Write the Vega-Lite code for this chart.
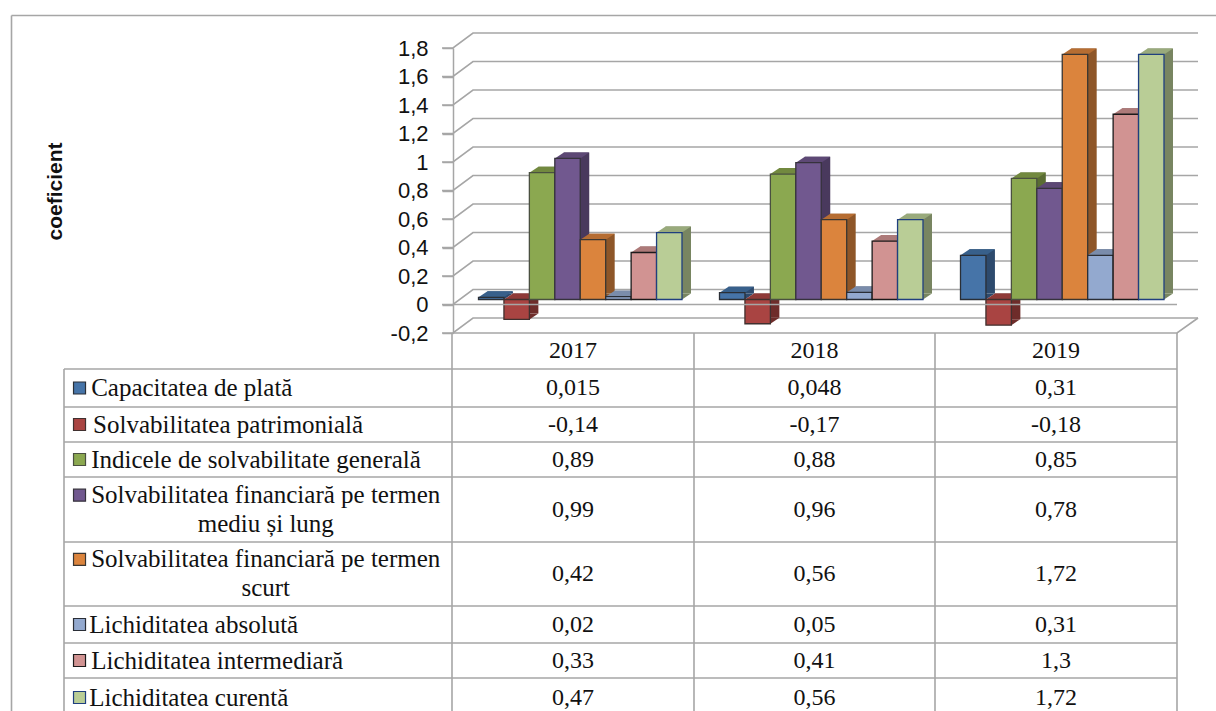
{"$schema":"https://vega.github.io/schema/vega-lite/v6.json","width":1216,"height":711,"padding":0,"autosize":{"type":"none"},"background":"white","config":{"view":{"stroke":null}},
"datasets":{
"bars":[
{"series":"Capacitatea de plată","year":"2017","value":0.015},{"series":"Capacitatea de plată","year":"2018","value":0.048},{"series":"Capacitatea de plată","year":"2019","value":0.31},
{"series":"Solvabilitatea patrimonială","year":"2017","value":-0.14},{"series":"Solvabilitatea patrimonială","year":"2018","value":-0.17},{"series":"Solvabilitatea patrimonială","year":"2019","value":-0.18},
{"series":"Indicele de solvabilitate generală","year":"2017","value":0.89},{"series":"Indicele de solvabilitate generală","year":"2018","value":0.88},{"series":"Indicele de solvabilitate generală","year":"2019","value":0.85},
{"series":"Solvabilitatea financiară pe termen mediu și lung","year":"2017","value":0.99},{"series":"Solvabilitatea financiară pe termen mediu și lung","year":"2018","value":0.96},{"series":"Solvabilitatea financiară pe termen mediu și lung","year":"2019","value":0.78},
{"series":"Solvabilitatea financiară pe termen scurt","year":"2017","value":0.42},{"series":"Solvabilitatea financiară pe termen scurt","year":"2018","value":0.56},{"series":"Solvabilitatea financiară pe termen scurt","year":"2019","value":1.72},
{"series":"Lichiditatea absolută","year":"2017","value":0.02},{"series":"Lichiditatea absolută","year":"2018","value":0.05},{"series":"Lichiditatea absolută","year":"2019","value":0.31},
{"series":"Lichiditatea intermediară","year":"2017","value":0.33},{"series":"Lichiditatea intermediară","year":"2018","value":0.41},{"series":"Lichiditatea intermediară","year":"2019","value":1.3},
{"series":"Lichiditatea curentă","year":"2017","value":0.47},{"series":"Lichiditatea curentă","year":"2018","value":0.56},{"series":"Lichiditatea curentă","year":"2019","value":1.72}],
"ticks":[{"t":-0.2},{"t":0},{"t":0.2},{"t":0.4},{"t":0.6},{"t":0.8},{"t":1},{"t":1.2},{"t":1.4},{"t":1.6},{"t":1.8}],
"cells":[
{"c":1.5,"r":0.5,"s":"0,015"},{"c":2.5,"r":0.5,"s":"0,048"},{"c":3.5,"r":0.5,"s":"0,31"},
{"c":1.5,"r":1.5,"s":"-0,14"},{"c":2.5,"r":1.5,"s":"-0,17"},{"c":3.5,"r":1.5,"s":"-0,18"},
{"c":1.5,"r":2.5,"s":"0,89"},{"c":2.5,"r":2.5,"s":"0,88"},{"c":3.5,"r":2.5,"s":"0,85"},
{"c":1.5,"r":3.5,"s":"0,99"},{"c":2.5,"r":3.5,"s":"0,96"},{"c":3.5,"r":3.5,"s":"0,78"},
{"c":1.5,"r":4.5,"s":"0,42"},{"c":2.5,"r":4.5,"s":"0,56"},{"c":3.5,"r":4.5,"s":"1,72"},
{"c":1.5,"r":5.5,"s":"0,02"},{"c":2.5,"r":5.5,"s":"0,05"},{"c":3.5,"r":5.5,"s":"0,31"},
{"c":1.5,"r":6.5,"s":"0,33"},{"c":2.5,"r":6.5,"s":"0,41"},{"c":3.5,"r":6.5,"s":"1,3"},
{"c":1.5,"r":7.5,"s":"0,47"},{"c":2.5,"r":7.5,"s":"0,56"},{"c":3.5,"r":7.5,"s":"1,72"},
{"c":1.5,"r":-0.5,"s":"2017"},{"c":2.5,"r":-0.5,"s":"2018"},{"c":3.5,"r":-0.5,"s":"2019"}],
"labels":[
{"series":"Capacitatea de plată","c":0.07,"sw":0.04,"r":0.5,"s":"Capacitatea de plată"},
{"series":"Solvabilitatea patrimonială","c":0.075,"sw":0.04,"r":1.5,"s":"Solvabilitatea patrimonială"},
{"series":"Indicele de solvabilitate generală","c":0.07,"sw":0.04,"r":2.5,"s":"Indicele de solvabilitate generală"},
{"series":"Solvabilitatea financiară pe termen mediu și lung","c":0.07,"sw":0.04,"r":3.28,"s":"Solvabilitatea financiară pe termen"},
{"series":"Solvabilitatea financiară pe termen scurt","c":0.07,"sw":0.04,"r":4.27,"s":"Solvabilitatea financiară pe termen"},
{"series":"Lichiditatea absolută","c":0.065,"sw":0.04,"r":5.5,"s":"Lichiditatea absolută"},
{"series":"Lichiditatea intermediară","c":0.07,"sw":0.04,"r":6.5,"s":"Lichiditatea intermediară"},
{"series":"Lichiditatea curentă","c":0.065,"sw":0.04,"r":7.5,"s":"Lichiditatea curentă"}],
"wraps":[{"c":0.52,"r":3.72,"s":"mediu și lung"},{"c":0.52,"r":4.72,"s":"scurt"}],
"hlines":[{"c":0,"c2":4,"r":0},{"c":0,"c2":4,"r":1},{"c":0,"c2":4,"r":2},{"c":0,"c2":4,"r":3},{"c":0,"c2":4,"r":4},{"c":0,"c2":4,"r":5},{"c":0,"c2":4,"r":6},{"c":0,"c2":4,"r":7},{"c":-1,"c2":5,"r":-2}],
"vlines":[{"c":0,"r":0,"r2":9},{"c":1,"r":-1,"r2":9},{"c":2,"r":-1,"r2":9},{"c":3,"r":-1,"r2":9},{"c":4,"r":-1,"r2":9},{"c":-1,"r":-2,"r2":9}]
},
"layer":[
{"data":{"name":"bars"},
"encoding":{
"x":{"field":"year","type":"nominal","sort":null,"scale":{"domain":["2017","2018","2019"],"range":[453,1176],"paddingInner":0,"paddingOuter":0},"axis":null},
"xOffset":{"field":"series","type":"nominal","sort":null,"scale":{"type":"band","domain":["Capacitatea de plată","Solvabilitatea patrimonială","Indicele de solvabilitate generală","Solvabilitatea financiară pe termen mediu și lung","Solvabilitatea financiară pe termen scurt","Lichiditatea absolută","Lichiditatea intermediară","Lichiditatea curentă"],"range":[25.5,229],"paddingInner":0,"paddingOuter":0}},
"y":{"field":"value","type":"quantitative","scale":{"domain":[-0.2,1.8],"range":[333,48],"nice":false,"zero":false},"axis":{"values":[-0.2,0,0.2,0.4,0.6,0.8,1,1.2,1.4,1.6,1.8],"offset":-453,"grid":false,"domainColor":"#a6a6a6","domainWidth":1.5,"tickColor":"#a6a6a6","tickWidth":1.5,"tickSize":11,"labelPadding":14,"labelFont":"Liberation Sans","labelFontSize":22,"labelColor":"#111111","labelExpr":"replace(''+round(datum.value*10)/10,'.',',')","title":"coeficient","titleFont":"Liberation Sans","titleFontWeight":"bold","titleFontSize":21,"titleColor":"#111111","titleAngle":-90,"titleAnchor":"middle","titleAlign":"center","titleBaseline":"middle","titleX":-398,"titleY":191}}
},
"layer":[
{"data":{"name":"ticks"},"mark":{"type":"point","shape":"M-11,0L0,0L20,-15L745,-15","size":4,"filled":false,"stroke":"#a6a6a6","strokeWidth":1.6,"opacity":1},
"encoding":{"xOffset":{"value":0},"x":{"datum":"2017","bandPosition":0},"y":{"field":"t","type":"quantitative"}}},
{"mark":{"type":"bar","yOffset":-11,"y2Offset":-11,"clip":false},
"encoding":{"xOffset":{"field":"series","type":"nominal","sort":null,"scale":{"type":"band","domain":["Capacitatea de plată","Solvabilitatea patrimonială","Indicele de solvabilitate generală","Solvabilitatea financiară pe termen mediu și lung","Solvabilitatea financiară pe termen scurt","Lichiditatea absolută","Lichiditatea intermediară","Lichiditatea curentă"],"range":[34.5,238],"paddingInner":0,"paddingOuter":0}},"y2":{"datum":0},"fill":{"field":"series","type":"nominal","legend":null,"scale":{"domain":["Capacitatea de plată","Solvabilitatea patrimonială","Indicele de solvabilitate generală","Solvabilitatea financiară pe termen mediu și lung","Solvabilitatea financiară pe termen scurt","Lichiditatea absolută","Lichiditatea intermediară","Lichiditatea curentă"],"range":["#2d4a6d","#6e2c2a","#5a6d33","#49395d","#8e5628","#5f6e86","#885f5f","#788561"]}}}},
{"transform":[{"filter":"datum.value>=0"}],"mark":{"type":"point","shape":"M12.7,0L12.7,-6L21.7,-6Z","size":4,"filled":true,"opacity":1,"yOffset":-5},
"encoding":{"y":{"datum":0},"fill":{"field":"series","type":"nominal","legend":null,"scale":{"domain":["Capacitatea de plată","Solvabilitatea patrimonială","Indicele de solvabilitate generală","Solvabilitatea financiară pe termen mediu și lung","Solvabilitatea financiară pe termen scurt","Lichiditatea absolută","Lichiditatea intermediară","Lichiditatea curentă"],"range":["#2d4a6d","#6e2c2a","#5a6d33","#49395d","#8e5628","#5f6e86","#885f5f","#788561"]}}}},
{"transform":[{"filter":"datum.value<0"}],"mark":{"type":"point","shape":"M12.7,0L12.7,-6L21.7,-6Z","size":4,"filled":true,"opacity":1,"yOffset":-5},
"encoding":{"fill":{"field":"series","type":"nominal","legend":null,"scale":{"domain":["Capacitatea de plată","Solvabilitatea patrimonială","Indicele de solvabilitate generală","Solvabilitatea financiară pe termen mediu și lung","Solvabilitatea financiară pe termen scurt","Lichiditatea absolută","Lichiditatea intermediară","Lichiditatea curentă"],"range":["#2d4a6d","#6e2c2a","#5a6d33","#49395d","#8e5628","#5f6e86","#885f5f","#788561"]}}}},
{"transform":[{"filter":"datum.value>=0"}],"mark":{"type":"point","shape":"M-12.7,0L12.7,0L21.7,-6L-3.7,-6Z","size":4,"filled":true,"opacity":1,"yOffset":-5},
"encoding":{"fill":{"field":"series","type":"nominal","legend":null,"scale":{"domain":["Capacitatea de plată","Solvabilitatea patrimonială","Indicele de solvabilitate generală","Solvabilitatea financiară pe termen mediu și lung","Solvabilitatea financiară pe termen scurt","Lichiditatea absolută","Lichiditatea intermediară","Lichiditatea curentă"],"range":["#38608b","#8f3a38","#72893f","#5d4875","#b66d32","#7a8cab","#ad7a79","#99aa7c"]}}}},
{"transform":[{"filter":"datum.value<0"}],"mark":{"type":"point","shape":"M-12.7,0L12.7,0L21.7,-6L-3.7,-6Z","size":4,"filled":true,"opacity":1,"yOffset":-5},
"encoding":{"y":{"datum":0},"fill":{"field":"series","type":"nominal","legend":null,"scale":{"domain":["Capacitatea de plată","Solvabilitatea patrimonială","Indicele de solvabilitate generală","Solvabilitatea financiară pe termen mediu și lung","Solvabilitatea financiară pe termen scurt","Lichiditatea absolută","Lichiditatea intermediară","Lichiditatea curentă"],"range":["#38608b","#8f3a38","#72893f","#5d4875","#b66d32","#7a8cab","#ad7a79","#99aa7c"]}}}},
{"mark":{"type":"bar","yOffset":-5,"y2Offset":-5,"strokeWidth":1.3,"clip":false},
"encoding":{"y2":{"datum":0},"fill":{"field":"series","type":"nominal","legend":null,"scale":{"domain":["Capacitatea de plată","Solvabilitatea patrimonială","Indicele de solvabilitate generală","Solvabilitatea financiară pe termen mediu și lung","Solvabilitatea financiară pe termen scurt","Lichiditatea absolută","Lichiditatea intermediară","Lichiditatea curentă"],"range":["#4674a8","#a94442","#8ba850","#71588f","#db843d","#93a9cf","#d19392","#b9cd96"]}},"stroke":{"field":"series","type":"nominal","legend":null,"scale":{"domain":["Capacitatea de plată","Solvabilitatea patrimonială","Indicele de solvabilitate generală","Solvabilitatea financiară pe termen mediu și lung","Solvabilitatea financiară pe termen scurt","Lichiditatea absolută","Lichiditatea intermediară","Lichiditatea curentă"],"range":["#2a2f36","#40302f","#4a5040","#36323c","#3a3632","#2a2e36","#1c1a1a","#1f3f7f"]}}}},
{"data":{"name":"ticks"},"transform":[{"filter":"datum.t==0"}],"mark":{"type":"point","shape":"M0,0L724,0","size":4,"filled":false,"stroke":"#a6a6a6","strokeWidth":1.6,"opacity":1},
"encoding":{"xOffset":{"value":0},"x":{"datum":"2017","bandPosition":0},"y":{"field":"t","type":"quantitative"}}},
{"data":{"name":"ticks"},"transform":[{"filter":"datum.t==-0.2"}],"mark":{"type":"point","shape":"M0,0L724,0L745,-15","size":4,"filled":false,"stroke":"#a6a6a6","strokeWidth":1.6,"opacity":1},
"encoding":{"xOffset":{"value":0},"x":{"datum":"2017","bandPosition":0},"y":{"field":"t","type":"quantitative"}}}
],
"resolve":{"scale":{"fill":"independent","stroke":"independent","xOffset":"independent"}}
},
{"encoding":{
"x":{"field":"c","type":"quantitative","scale":{"domain":[-1,0,1,2,3,4,5],"range":[11.5,64,452,694,935,1177,1216],"nice":false,"zero":false},"axis":null},
"y":{"field":"r","type":"quantitative","scale":{"domain":[-2,-1,0,1,2,3,4,5,6,7,8,9],"range":[15.5,333,369,407,442,477,542,606,643,678,717,717.01],"nice":false,"zero":false},"axis":null}},
"layer":[
{"data":{"name":"hlines"},"mark":{"type":"rule","stroke":"#a6a6a6","strokeWidth":1.6,"clip":false},"encoding":{"x2":{"field":"c2"}}},
{"data":{"name":"vlines"},"mark":{"type":"rule","stroke":"#a6a6a6","strokeWidth":1.6,"clip":false},"encoding":{"y2":{"field":"r2"}}},
{"data":{"name":"cells"},"mark":{"type":"text","font":"Liberation Serif","fontSize":24,"fill":"#111111","align":"center","baseline":"middle"},"encoding":{"text":{"field":"s","type":"nominal"}}},
{"data":{"name":"labels"},"mark":{"type":"text","font":"Liberation Serif","fontSize":25,"fill":"#111111","align":"left","baseline":"middle"},"encoding":{"text":{"field":"s","type":"nominal"}}},
{"data":{"name":"wraps"},"mark":{"type":"text","font":"Liberation Serif","fontSize":25,"fill":"#111111","align":"center","baseline":"middle"},"encoding":{"text":{"field":"s","type":"nominal"}}},
{"data":{"name":"labels"},"mark":{"type":"point","shape":"square","size":144,"filled":true,"opacity":1,"strokeWidth":1.2},"encoding":{"x":{"field":"sw","type":"quantitative"},
"fill":{"field":"series","type":"nominal","legend":null,"scale":{"domain":["Capacitatea de plată","Solvabilitatea patrimonială","Indicele de solvabilitate generală","Solvabilitatea financiară pe termen mediu și lung","Solvabilitatea financiară pe termen scurt","Lichiditatea absolută","Lichiditatea intermediară","Lichiditatea curentă"],"range":["#4674a8","#a94442","#8ba850","#71588f","#db843d","#93a9cf","#d19392","#b9cd96"]}},
"stroke":{"field":"series","type":"nominal","legend":null,"scale":{"domain":["Capacitatea de plată","Solvabilitatea patrimonială","Indicele de solvabilitate generală","Solvabilitatea financiară pe termen mediu și lung","Solvabilitatea financiară pe termen scurt","Lichiditatea absolută","Lichiditatea intermediară","Lichiditatea curentă"],"range":["#2a2f36","#40302f","#4a5040","#36323c","#3a3632","#2a2e36","#1c1a1a","#1f3f7f"]}}}}
]}
],
"resolve":{"scale":{"x":"independent","y":"independent"},"axis":{"y":"independent"}}
}
